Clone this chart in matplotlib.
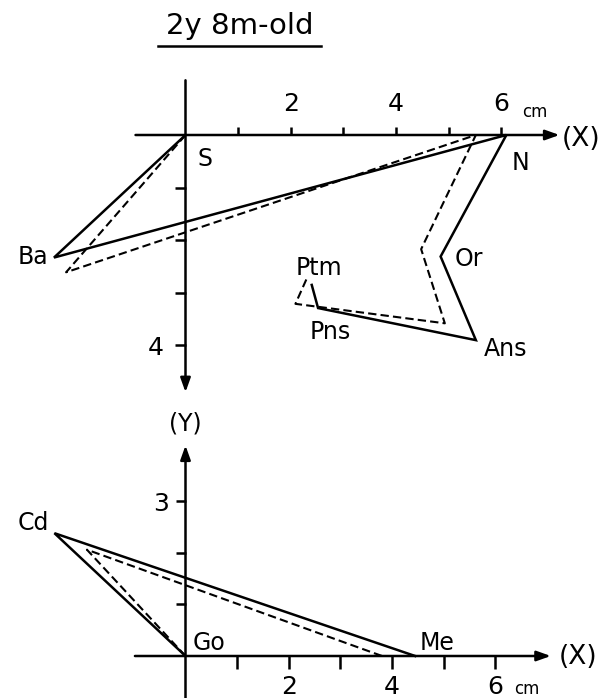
import matplotlib
matplotlib.use('Agg')
import matplotlib.pyplot as plt
from matplotlib.lines import Line2D

# Upper panel: S-N frame (x to the right, y downward), in cm
upper_names = ['S', 'Ba', 'N', 'Or', 'Ans', 'Pns', 'Ptm']
upper_solid_x = [0.0, -2.50, 6.10, 4.85, 5.52, 2.52, 2.40]
upper_solid_y = [0.0, 2.33, 0.0, 2.31, 3.90, 3.29, 2.85]
upper_dash_x = [0.0, -2.27, 5.52, 4.48, 4.93, 2.09, 2.30]
upper_dash_y = [0.0, 2.61, 0.0, 2.17, 3.58, 3.21, 2.74]

# Lower panel: Go-Me frame (x to the right, y upward), in cm
lower_names = ['Go', 'Cd', 'Me']
lower_solid_x = [0.0, -2.54, 4.45]
lower_solid_y = [0.0, 2.38, 0.0]
lower_dash_x = [0.0, -1.91, 3.81]
lower_dash_y = [0.0, 2.06, 0.0]

x_ticks = [1, 2, 3, 4, 5, 6]
x_ticklabels = ['', '2', '', '4', '', '6']
upper_y_ticks = [1, 2, 3, 4]
upper_y_ticklabels = ['', '', '', '4']
lower_y_ticks = [1, 2, 3]
lower_y_ticklabels = ['', '', '3']

W, H = 613, 698
LW = 1.8
DLW = 1.5
DASH = (0, (4, 2))
FS = 17

fig = plt.figure(figsize=(W / 100, H / 100), dpi=100)
fig.patch.set_facecolor('white')


def axis_arrow(ax, start, tip):
    ax.annotate('', xy=tip, xytext=start,
                arrowprops=dict(arrowstyle='-|>,head_length=0.7,head_width=0.25',
                                mutation_scale=12, lw=LW, color='black',
                                shrinkA=0, shrinkB=0))


def style_axes(ax):
    ax.set_facecolor('none')
    for sp in ax.spines.values():
        sp.set_visible(False)
    ax.tick_params(width=LW, colors='black', labelsize=FS + 1)


# ---------------------------------------------------------------- upper
s_upper = 52.6
ax1 = fig.add_axes([0, 298 / H, 1, 400 / H])
ax1.set_xlim(-185.5 / s_upper, (W - 185.5) / s_upper)
ax1.set_ylim((400 - 135) / s_upper, -135 / s_upper)
style_axes(ax1)
ax1.xaxis.tick_top()
ax1.spines['top'].set_position(('data', 0))
ax1.spines['left'].set_position(('data', 0))
ax1.set_xticks(x_ticks, x_ticklabels)
ax1.set_yticks(upper_y_ticks, upper_y_ticklabels)
ax1.tick_params(axis='x', direction='out', length=6, pad=8)
ax1.tick_params(axis='y', direction='out', length=8, pad=8)

axis_arrow(ax1, (-0.95, 0), (7.11, 0))
axis_arrow(ax1, (0, -1.04), (0, 4.89))

ax1.plot(upper_solid_x, upper_solid_y, color='black', lw=LW,
         solid_joinstyle='miter')
ax1.plot(upper_dash_x, upper_dash_y, color='black', lw=DLW, linestyle=DASH)

upper_label_pos = {
    'S': (0.37, 0.46), 'N': (6.37, 0.54), 'Ba': (-2.90, 2.31),
    'Or': (5.39, 2.36), 'Ans': (6.09, 4.06), 'Pns': (2.75, 3.74),
    'Ptm': (2.53, 2.53),
}
for name in upper_names:
    x, y = upper_label_pos[name]
    ax1.text(x, y, name, fontsize=FS, ha='center', va='center')
ax1.text(7.52, 0.08, '(X)', fontsize=FS + 2, ha='center', va='center')
ax1.text(6.65, -0.44, 'cm', fontsize=12, ha='center', va='center')

# ---------------------------------------------------------------- lower
s_lower = 51.6
ax2 = fig.add_axes([0, 0, 1, 298 / H])
ax2.set_xlim(-185.5 / s_lower, (W - 185.5) / s_lower)
ax2.set_ylim(-42 / s_lower, (656 - 400) / s_lower)
style_axes(ax2)
ax2.spines['bottom'].set_position(('data', 0))
ax2.spines['left'].set_position(('data', 0))
ax2.set_xticks(x_ticks, x_ticklabels)
ax2.set_yticks(lower_y_ticks, lower_y_ticklabels)
ax2.tick_params(axis='x', direction='out', length=9, pad=5)
ax2.tick_params(axis='y', direction='out', length=7, pad=5)

axis_arrow(ax2, (-0.98, 0), (7.08, 0))
axis_arrow(ax2, (0, -0.85), (0, 4.08))

ax2.plot(lower_solid_x, lower_solid_y, color='black', lw=LW,
         solid_joinstyle='miter')
ax2.plot(lower_dash_x, lower_dash_y, color='black', lw=DLW, linestyle=DASH)

lower_label_pos = {'Go': (0.46, 0.25), 'Cd': (-2.95, 2.57), 'Me': (4.88, 0.25)}
for name in lower_names:
    x, y = lower_label_pos[name]
    ax2.text(x, y, name, fontsize=FS, ha='center', va='center')
ax2.text(7.61, -0.01, '(X)', fontsize=FS + 2, ha='center', va='center')
ax2.text(0, 4.51, '(Y)', fontsize=FS, ha='center', va='center')
ax2.text(6.62, -0.63, 'cm', fontsize=12, ha='center', va='center')

# ---------------------------------------------------------------- title
fig.text(240 / W, 1 - 26 / H, '2y 8m-old', fontsize=21,
         ha='center', va='center')
fig.add_artist(Line2D([158 / W, 321 / W], [1 - 46 / H, 1 - 46 / H],
                      transform=fig.transFigure, color='black', lw=LW))

fig.savefig('out.png', dpi=100)
